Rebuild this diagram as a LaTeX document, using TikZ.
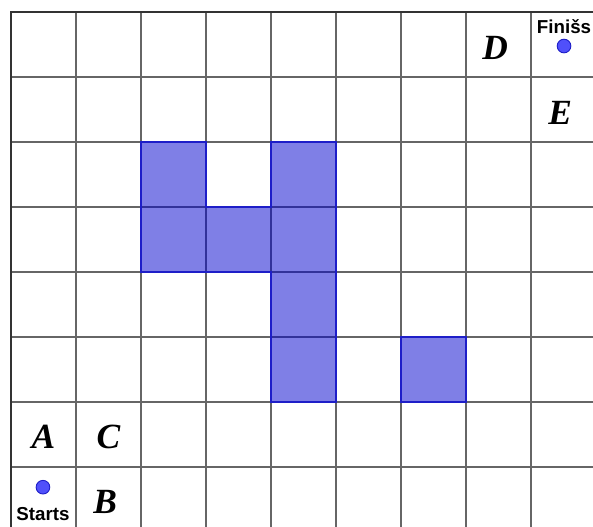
\documentclass[tikz,border=0pt]{standalone}
\usepackage{fontspec}
\setmainfont{Liberation Serif}
\setsansfont{Liberation Sans}
\usetikzlibrary{positioning}
\definecolor{cellfill}{RGB}{0,0,205}
\definecolor{celledge}{RGB}{30,30,200}
\definecolor{dotfill}{RGB}{80,80,250}
\begin{document}
\begin{tikzpicture}[
  gridline/.style={draw=black!60, line width=0.6pt},
  cell/.style={fill=cellfill, fill opacity=0.5, draw=celledge, line width=1pt},
  letter/.style={font=\fontsize{15.5}{17}\selectfont\bfseries\itshape},
  spot/.style={circle, fill=dotfill, draw=celledge, line width=0.4pt, inner sep=0pt, minimum size=0.21cm},
  tag/.style={font=\sffamily\bfseries\fontsize{8.2}{9}\selectfont, inner sep=0.5pt}
]
  \useasboundingbox (-0.169,0.185) rectangle (8.954,-7.908);
  \clip (-0.169,0.185) rectangle (8.954,-7.908);
  \draw[gridline] (0,-8.5) grid (9.5,0);
  \draw[line width=1.1pt, black!80] (0,-8.5) -- (0,0) -- (9.5,0);
  % shaded cells
  \draw[cell] (2,-2) -- (3,-2) -- (3,-3) -- (4,-3) -- (4,-2) -- (5,-2) -- (5,-6) -- (4,-6) -- (4,-4) -- (2,-4) -- cycle;
  \draw[cell] (6,-5) rectangle (7,-6);
  % letters
  \node[letter] (A) at (0.5,-6.53) {A};
  \node[letter] (C) at (1.5,-6.53) {C};
  \node[letter] (B) at (1.45,-7.53) {B};
  \node[letter] (D) at (7.45,-0.55) {D};
  \node[letter] (E) at (8.45,-1.55) {E};
  % start and finish
  \node[spot] (start) at (0.492,-7.31) {};
  \node[tag, below=0.17cm of start] (starttag) {Starts};
  \node[spot] (finish) at (8.508,-0.523) {};
  \node[tag, above=0.06cm of finish] (finishtag) {Finišs};
\end{tikzpicture}
\end{document}
